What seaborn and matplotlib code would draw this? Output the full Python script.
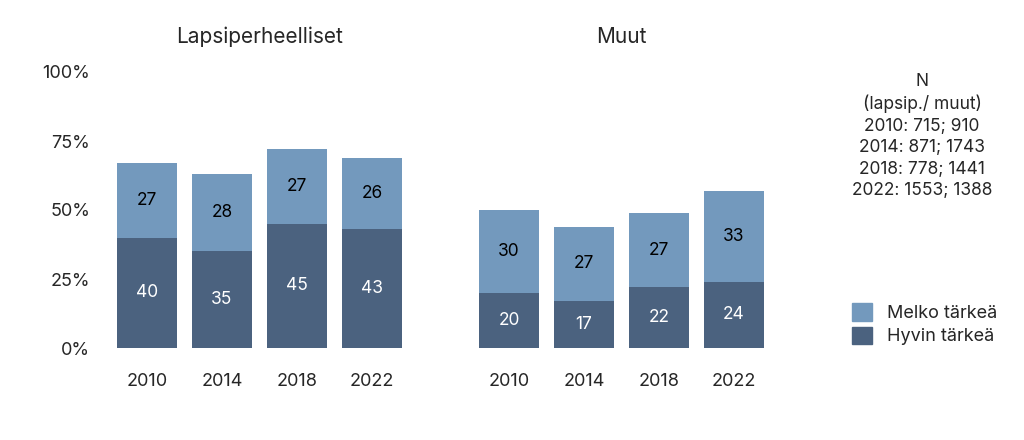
import pandas as pd
import seaborn as sns
import matplotlib.pyplot as plt
from matplotlib.patches import Patch

years = ['2010', '2014', '2018', '2022']
lapsi_hyvin = [40, 35, 45, 43]
lapsi_melko = [27, 28, 27, 26]
muut_hyvin = [20, 17, 22, 24]
muut_melko = [30, 27, 27, 33]
n_text = 'N\n(lapsip./ muut)\n2010: 715; 910\n2014: 871; 1743\n2018: 778; 1441\n2022: 1553; 1388'

light = '#7399bd'
dark = '#4b627f'

sns.set_theme(style='white')
plt.rcParams['font.family'] = ['Inter', 'DejaVu Sans']

fig = plt.figure(figsize=(10.24, 4.4), dpi=100)
ax1 = fig.add_axes([109.5 / 1024, 1 - 348 / 440, 300 / 1024, 276 / 440])
ax2 = fig.add_axes([471.5 / 1024, 1 - 348 / 440, 300 / 1024, 276 / 440])


def draw(ax, hyvin, melko, title, show_y):
    df = pd.DataFrame({'year': years, 'hyvin': hyvin, 'melko': melko})
    df['total'] = df['hyvin'] + df['melko']
    sns.barplot(data=df, x='year', y='total', color=light, width=0.81,
                saturation=1, linewidth=0, ax=ax)
    sns.barplot(data=df, x='year', y='hyvin', color=dark, width=0.81,
                saturation=1, linewidth=0, ax=ax)
    for i, row in df.iterrows():
        ax.text(i, row['hyvin'] / 2, str(row['hyvin']), ha='center', va='center',
                color='white', fontsize=12.5)
        ax.text(i, row['hyvin'] + row['melko'] / 2, str(row['melko']),
                ha='center', va='center', color='black', fontsize=12.5)
    ax.set_ylim(0, 100)
    ax.set_xlim(-0.5, 3.5)
    ax.set_xlabel('')
    ax.set_ylabel('')
    ax.set_title(title, fontsize=15, pad=21)
    sns.despine(ax=ax, left=True, bottom=True)
    ax.tick_params(axis='x', length=0, pad=18, labelsize=13)
    ax.set_yticks([0, 25, 50, 75, 100])
    if show_y:
        ax.set_yticklabels(['0%', '25%', '50%', '75%', '100%'])
        ax.tick_params(axis='y', length=0, pad=14, labelsize=13)
    else:
        ax.set_yticklabels([])
        ax.tick_params(axis='y', length=0)


draw(ax1, lapsi_hyvin, lapsi_melko, 'Lapsiperheelliset', True)
draw(ax2, muut_hyvin, muut_melko, 'Muut', False)

fig.text(922 / 1024, 1 - 73 / 440, n_text, ha='center', va='top',
         fontsize=12.5, linespacing=1.34)

handles = [Patch(color=light, label='Melko tärkeä'),
           Patch(color=dark, label='Hyvin tärkeä')]
fig.legend(handles=handles, loc='upper left', bbox_to_anchor=(836 / 1024, 1 - 287 / 440),
           frameon=False, fontsize=13, handlelength=1.1, handleheight=1.1,
           handletextpad=0.8, labelspacing=0.25)

fig.savefig('out.png', dpi=100)
